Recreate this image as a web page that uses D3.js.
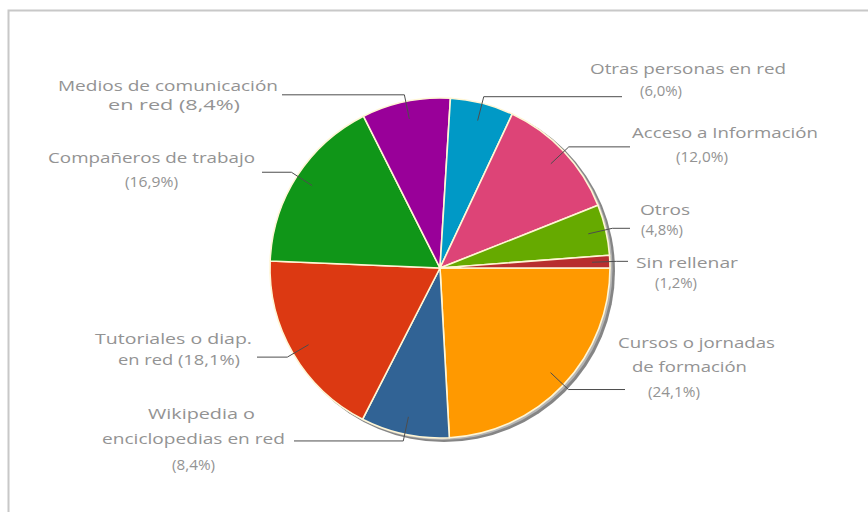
<!DOCTYPE html>
<html><head><meta charset="utf-8">
<script src="https://cdn.jsdelivr.net/npm/d3@7"></script>
<style>body{margin:0;background:#fff}svg{display:block}text{font-family:"Open Sans",sans-serif;fill:#939393}</style>
</head><body><svg id="c" width="868" height="512"></svg>
<script>
const categories = ["Cursos o jornadas de formación","Wikipedia o enciclopedias en red","Tutoriales o diap. en red","Compañeros de trabajo","Medios de comunicación en red","Otras personas en red","Acceso a Información","Otros","Sin rellenar"];
const values = [24.1, 8.4, 18.1, 16.9, 8.4, 6.0, 12.0, 4.8, 1.2];
const colors = ["#ff9900","#316395","#dc3912","#109618","#990099","#0099c6","#dd4477","#66aa00","#b82e2e"];
const labelLines = [
 ["Cursos o jornadas","de formación","(24,1%)"],
 ["Wikipedia o","enciclopedias en red","(8,4%)"],
 ["Tutoriales o diap.","en red  (18,1%)"],
 ["Compañeros de trabajo","(16,9%)"],
 ["Medios de comunicación","en red (8,4%)"],
 ["Otras personas en red","(6,0%)"],
 ["Acceso a Información","(12,0%)"],
 ["Otros","(4,8%)"],
 ["Sin rellenar","(1,2%)"]
];
// layout only: leader end x, and for each text line [x0, x1, centerY]
const labelLayout = [
 {end:625, lines:[[618,775,342],[632,747,366],[648,700,391]]},
 {end:294, lines:[[148,255,413],[102,285,438],[172,215,464]]},
 {end:257, lines:[[95,252,338],[118,240,359]]},
 {end:262, lines:[[48,255,157],[125,178,181]]},
 {end:282, lines:[[58,278,85],[108,240,104]]},
 {end:622, lines:[[590,786,68],[640,682,90]]},
 {end:630, lines:[[632,818,132],[676,728,156]]},
 {end:630, lines:[[640,690,209],[641,683,229]]},
 {end:628, lines:[[636,738,262],[655,697,282]]}
];

const svg = d3.select("#c");
const cx = 440, cy = 268, R = 170;

// frame
svg.append("path").attr("d","M8.5,520V10.5H880").attr("fill","none").attr("stroke","#c8c8c8").attr("stroke-width",2);

const data = categories.map((c,i)=>({name:c, value:values[i], color:colors[i], lines:labelLines[i], layout:labelLayout[i]}));
const pie = d3.pie().sort(null).value(d=>d.value).startAngle(Math.PI/2).endAngle(Math.PI/2 + 2*Math.PI);
const arcs = pie(data);
const arc = d3.arc().innerRadius(0).outerRadius(R);

const g = svg.append("g").attr("transform",`translate(${cx},${cy})`);
// shadow
g.append("circle").attr("cx",4).attr("cy",3).attr("r",R+1).attr("fill","#858585");
g.append("circle").attr("cx",2).attr("cy",1.5).attr("r",R+0.5).attr("fill","#b5b5b5");

g.selectAll("path.slice").data(arcs).join("path").attr("class","slice")
 .attr("d",arc).attr("fill",d=>d.data.color)
 .attr("stroke","#fff6d5").attr("stroke-width",1.6).attr("stroke-linejoin","round");

// leaders
const inner = d3.arc().innerRadius(R*0.895).outerRadius(R*0.895);
const elbow = d3.arc().innerRadius(R*1.04).outerRadius(R*1.04);
arcs.forEach(a=>{
  const p1 = inner.centroid(a), p2 = elbow.centroid(a);
  const endX = a.data.layout.end - cx;
  g.append("polyline").attr("points",[p1,p2,[endX,p2[1]]].map(p=>p.join(",")).join(" "))
   .attr("fill","none").attr("stroke","#4d4d4d").attr("stroke-width",1);
});

// labels
arcs.forEach(a=>{
  a.data.lines.forEach((t,j)=>{
    const [x0,x1,yc] = a.data.layout.lines[j];
    svg.append("text").attr("x",x0).attr("y",yc+5.5)
      .attr("font-size",15).attr("textLength",x1-x0).attr("lengthAdjust","spacingAndGlyphs")
      .text(t);
  });
});
</script></body></html>
